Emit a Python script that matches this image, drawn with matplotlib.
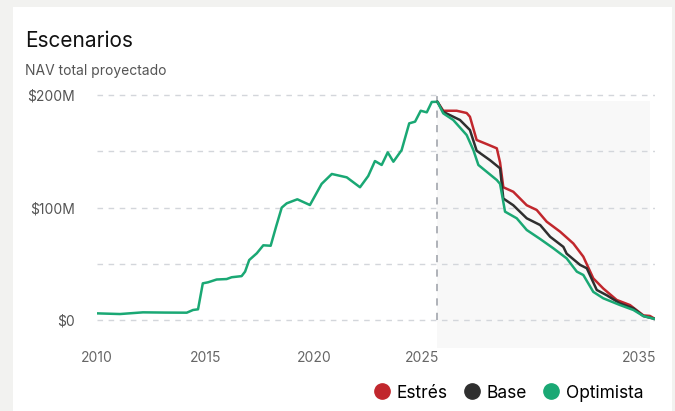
import matplotlib.pyplot as plt
from matplotlib.lines import Line2D
from matplotlib.patches import Rectangle

plt.rcParams['font.family'] = ['Inter', 'DejaVu Sans']

# historical NAV (year, $M)
hist_years = [2010.0, 2011.06, 2012.12, 2013.14, 2014.14, 2014.43, 2014.66, 2014.88,
              2015.12, 2015.52, 2015.98, 2016.21, 2016.67, 2016.83, 2017.02, 2017.37,
              2017.67, 2018.01, 2018.26, 2018.52, 2018.75, 2019.24, 2019.82, 2020.36,
              2020.83, 2021.52, 2022.13, 2022.51, 2022.82, 2023.13, 2023.41, 2023.67,
              2024.05, 2024.4, 2024.67, 2024.93, 2025.21, 2025.44, 2025.7]
hist_nav = [5.9, 5.3, 6.8, 6.6, 6.5, 8.9, 9.5, 32.6,
            33.5, 36.0, 36.4, 38.0, 39.0, 43.0, 53.3, 59.3,
            66.4, 66.0, 83.0, 99.9, 103.7, 107.3, 102.2, 121.0,
            129.8, 126.8, 118.0, 128.0, 141.3, 137.8, 149.0, 140.7,
            151.0, 174.8, 176.3, 186.0, 184.6, 193.8, 194.0]

# projections
stress_years = [2025.7, 2025.97, 2026.59, 2027.05, 2027.2, 2027.51, 2027.97, 2028.44,
                2028.59, 2028.74, 2029.2, 2029.82, 2030.28, 2030.74, 2031.36, 2031.97,
                2032.43, 2032.89, 2033.35, 2033.97, 2034.58, 2035.2, 2035.5, 2035.74]
stress_nav = [194.0, 186.0, 186.0, 184.0, 180.7, 160.0, 156.4, 152.6,
              140.0, 118.0, 114.0, 102.0, 97.8, 87.4, 78.5, 68.0,
              56.3, 37.0, 28.0, 17.8, 13.3, 4.1, 3.6, 0.9]

base_years = [2025.7, 2025.97, 2026.74, 2027.2, 2027.51, 2028.13, 2028.59, 2028.74,
              2029.2, 2029.82, 2030.44, 2030.9, 2031.51, 2031.66, 2032.28, 2032.59,
              2033.05, 2033.51, 2034.12, 2034.74, 2035.2, 2035.74]
base_nav = [194.0, 185.0, 177.8, 168.9, 150.5, 142.0, 134.8, 108.0,
            102.0, 90.4, 84.4, 74.0, 65.0, 59.0, 49.0, 46.0,
            26.7, 22.0, 14.8, 10.4, 3.5, 0.9]

opt_years = [2025.7, 2025.97, 2026.43, 2027.05, 2027.36, 2027.59, 2028.44, 2028.59,
             2028.82, 2029.36, 2029.82, 2030.44, 2031.05, 2031.66, 2032.13, 2032.43,
             2032.89, 2033.35, 2034.12, 2034.74, 2035.2, 2035.74]
opt_nav = [194.0, 183.7, 177.8, 164.4, 151.0, 137.8, 124.4, 121.0,
           96.3, 90.4, 80.0, 72.0, 63.7, 54.8, 43.0, 40.0,
           25.0, 19.3, 13.3, 8.9, 3.5, 0.9]

today = 2025.7
proj_end = 2035.5
x_ticks = [2010, 2015, 2020, 2025, 2035]
y_ticks = [0, 100, 200]
y_labels = ['$0', '$100M', '$200M']

RED = '#c1272d'
DARK = '#2f2f2f'
GREEN = '#1aa874'

W, H = 675, 411
fig = plt.figure(figsize=(W / 100, H / 100), dpi=100, facecolor='#f2f2f0')
fig.patches.append(Rectangle((13 / W, -0.05), (672 - 13) / W, 1.05 - 7 / H,
                             transform=fig.transFigure, facecolor='white',
                             edgecolor='none', zorder=-10))

ax = fig.add_axes([97 / W, (H - 350) / H, (655.3 - 97) / W, (350 - 92) / H])
ax.set_zorder(1)
ax.set_facecolor('none')
ax.set_xlim(2010, 2035.75)
ax.set_ylim(-26.67, 202.67)

# shaded projection area
ax.fill_between([today, proj_end], -25, 195, color='#f8f8f8', lw=0, zorder=0)

for v in [0, 50, 100, 150, 200]:
    ax.axhline(v, color='#d3d6db', lw=1, ls=(0, (4, 4)), zorder=1)
ax.plot([today, today], [0, 200], color='#a9acb3', lw=1.3, ls=(0, (4, 4)), zorder=1)

line_kw = dict(lw=1.8, solid_joinstyle='round', solid_capstyle='round')
ax.plot(hist_years, hist_nav, color=GREEN, zorder=3, **line_kw)
ax.plot(stress_years, stress_nav, color=RED, zorder=3, **line_kw)
ax.plot(base_years, base_nav, color=DARK, zorder=4, **line_kw)
ax.plot(opt_years, opt_nav, color=GREEN, zorder=5, **line_kw)

ax.set_xticks(x_ticks)
ax.set_xticklabels([str(t) for t in x_ticks])
ax.set_yticks(y_ticks)
ax.set_yticklabels(y_labels)
ax.tick_params(axis='x', length=0, pad=1, labelsize=10, colors='#666666')
ax.tick_params(axis='y', length=0, pad=16, labelsize=10, colors='#555555')
for s in ax.spines.values():
    s.set_visible(False)

fig.text(25 / W, 1 - 47 / H, 'Escenarios', fontsize=15, color='#111111', va='baseline')
fig.text(25 / W, 1 - 75 / H, 'NAV total proyectado', fontsize=10, color='#555555', va='baseline')

handles = [Line2D([], [], ls='none', marker='o', markersize=11, color=c)
           for c in (RED, DARK, GREEN)]
fig.legend(handles, ['Estrés', 'Base', 'Optimista'], loc='center right',
           bbox_to_anchor=(659 / W, 1 - 393 / H), ncol=3, frameon=False,
           fontsize=12.5, handletextpad=0.35, columnspacing=0.9, handlelength=1.0)

fig.savefig('out.png', dpi=100, facecolor=fig.get_facecolor())
